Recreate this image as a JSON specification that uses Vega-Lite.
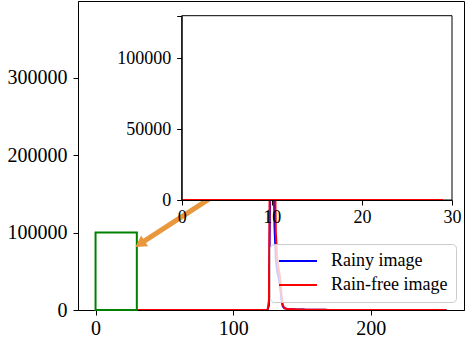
{
"$schema": "https://vega.github.io/schema/vega-lite/v6.json",
"width": 386, "height": 309,
"autosize": "none",
"padding": {"left": 78, "top": 1, "right": 3, "bottom": 31},
"background": "white",
"config": {
  "font": "Liberation Serif",
  "view": {"stroke": "#000000", "strokeWidth": 1},
  "style": {"guide-label": {"font": "Liberation Serif", "fill": "#000000"}},
  "axis": {"domainColor": "#000000", "tickColor": "#000000", "labelColor": "#000000", "grid": false, "title": null, "labelFont": "Liberation Serif", "domainWidth": 1, "tickWidth": 1, "labelFlush": false, "labelOverlap": false},
  "legend": {"labelFont": "Liberation Serif", "labelFontSize": 18, "labelColor": "#000000", "labelLimit": 300}
},
"data": {"values": [
{"x":0,"Rainy image":0,"Rain-free image":0},{"x":1,"Rainy image":0,"Rain-free image":0},{"x":2,"Rainy image":0,"Rain-free image":0},{"x":3,"Rainy image":0,"Rain-free image":0},{"x":4,"Rainy image":0,"Rain-free image":0},{"x":5,"Rainy image":0,"Rain-free image":0},{"x":6,"Rainy image":0,"Rain-free image":0},{"x":7,"Rainy image":0,"Rain-free image":0},{"x":8,"Rainy image":0,"Rain-free image":0},{"x":9,"Rainy image":0,"Rain-free image":0},
{"x":10,"Rainy image":0,"Rain-free image":0},{"x":11,"Rainy image":0,"Rain-free image":0},{"x":12,"Rainy image":0,"Rain-free image":0},{"x":13,"Rainy image":0,"Rain-free image":0},{"x":14,"Rainy image":0,"Rain-free image":0},{"x":15,"Rainy image":0,"Rain-free image":0},{"x":16,"Rainy image":0,"Rain-free image":0},{"x":17,"Rainy image":0,"Rain-free image":0},{"x":18,"Rainy image":0,"Rain-free image":0},{"x":19,"Rainy image":0,"Rain-free image":0},
{"x":20,"Rainy image":0,"Rain-free image":0},{"x":21,"Rainy image":0,"Rain-free image":0},{"x":22,"Rainy image":0,"Rain-free image":0},{"x":23,"Rainy image":0,"Rain-free image":0},{"x":24,"Rainy image":0,"Rain-free image":0},{"x":25,"Rainy image":0,"Rain-free image":0},{"x":26,"Rainy image":0,"Rain-free image":0},{"x":27,"Rainy image":0,"Rain-free image":0},{"x":28,"Rainy image":0,"Rain-free image":0},{"x":29,"Rainy image":0,"Rain-free image":0},
{"x":30,"Rainy image":0,"Rain-free image":0},{"x":31,"Rainy image":0,"Rain-free image":0},{"x":32,"Rainy image":0,"Rain-free image":0},{"x":33,"Rainy image":0,"Rain-free image":0},{"x":34,"Rainy image":0,"Rain-free image":0},{"x":35,"Rainy image":0,"Rain-free image":0},{"x":36,"Rainy image":0,"Rain-free image":0},{"x":37,"Rainy image":0,"Rain-free image":0},{"x":38,"Rainy image":0,"Rain-free image":0},{"x":39,"Rainy image":0,"Rain-free image":0},
{"x":40,"Rainy image":0,"Rain-free image":0},{"x":41,"Rainy image":0,"Rain-free image":0},{"x":42,"Rainy image":0,"Rain-free image":0},{"x":43,"Rainy image":0,"Rain-free image":0},{"x":44,"Rainy image":0,"Rain-free image":0},{"x":45,"Rainy image":0,"Rain-free image":0},{"x":46,"Rainy image":0,"Rain-free image":0},{"x":47,"Rainy image":0,"Rain-free image":0},{"x":48,"Rainy image":0,"Rain-free image":0},{"x":49,"Rainy image":0,"Rain-free image":0},
{"x":50,"Rainy image":0,"Rain-free image":0},{"x":51,"Rainy image":0,"Rain-free image":0},{"x":52,"Rainy image":0,"Rain-free image":0},{"x":53,"Rainy image":0,"Rain-free image":0},{"x":54,"Rainy image":0,"Rain-free image":0},{"x":55,"Rainy image":0,"Rain-free image":0},{"x":56,"Rainy image":0,"Rain-free image":0},{"x":57,"Rainy image":0,"Rain-free image":0},{"x":58,"Rainy image":0,"Rain-free image":0},{"x":59,"Rainy image":0,"Rain-free image":0},
{"x":60,"Rainy image":0,"Rain-free image":0},{"x":61,"Rainy image":0,"Rain-free image":0},{"x":62,"Rainy image":0,"Rain-free image":0},{"x":63,"Rainy image":0,"Rain-free image":0},{"x":64,"Rainy image":0,"Rain-free image":0},{"x":65,"Rainy image":0,"Rain-free image":0},{"x":66,"Rainy image":0,"Rain-free image":0},{"x":67,"Rainy image":0,"Rain-free image":0},{"x":68,"Rainy image":0,"Rain-free image":0},{"x":69,"Rainy image":0,"Rain-free image":0},
{"x":70,"Rainy image":0,"Rain-free image":0},{"x":71,"Rainy image":0,"Rain-free image":0},{"x":72,"Rainy image":0,"Rain-free image":0},{"x":73,"Rainy image":0,"Rain-free image":0},{"x":74,"Rainy image":0,"Rain-free image":0},{"x":75,"Rainy image":0,"Rain-free image":0},{"x":76,"Rainy image":0,"Rain-free image":0},{"x":77,"Rainy image":0,"Rain-free image":0},{"x":78,"Rainy image":0,"Rain-free image":0},{"x":79,"Rainy image":0,"Rain-free image":0},
{"x":80,"Rainy image":0,"Rain-free image":0},{"x":81,"Rainy image":0,"Rain-free image":0},{"x":82,"Rainy image":0,"Rain-free image":0},{"x":83,"Rainy image":0,"Rain-free image":0},{"x":84,"Rainy image":0,"Rain-free image":0},{"x":85,"Rainy image":0,"Rain-free image":0},{"x":86,"Rainy image":0,"Rain-free image":0},{"x":87,"Rainy image":0,"Rain-free image":0},{"x":88,"Rainy image":0,"Rain-free image":0},{"x":89,"Rainy image":0,"Rain-free image":0},
{"x":90,"Rainy image":0,"Rain-free image":0},{"x":91,"Rainy image":0,"Rain-free image":0},{"x":92,"Rainy image":0,"Rain-free image":0},{"x":93,"Rainy image":0,"Rain-free image":0},{"x":94,"Rainy image":0,"Rain-free image":0},{"x":95,"Rainy image":0,"Rain-free image":0},{"x":96,"Rainy image":0,"Rain-free image":0},{"x":97,"Rainy image":0,"Rain-free image":0},{"x":98,"Rainy image":0,"Rain-free image":0},{"x":99,"Rainy image":0,"Rain-free image":0},
{"x":100,"Rainy image":0,"Rain-free image":0},{"x":101,"Rainy image":0,"Rain-free image":0},{"x":102,"Rainy image":0,"Rain-free image":0},{"x":103,"Rainy image":0,"Rain-free image":0},{"x":104,"Rainy image":0,"Rain-free image":0},{"x":105,"Rainy image":0,"Rain-free image":0},{"x":106,"Rainy image":0,"Rain-free image":0},{"x":107,"Rainy image":0,"Rain-free image":0},{"x":108,"Rainy image":0,"Rain-free image":0},{"x":109,"Rainy image":0,"Rain-free image":0},
{"x":110,"Rainy image":0,"Rain-free image":0},{"x":111,"Rainy image":0,"Rain-free image":0},{"x":112,"Rainy image":0,"Rain-free image":0},{"x":113,"Rainy image":0,"Rain-free image":0},{"x":114,"Rainy image":0,"Rain-free image":0},{"x":115,"Rainy image":0,"Rain-free image":0},{"x":116,"Rainy image":0,"Rain-free image":0},{"x":117,"Rainy image":0,"Rain-free image":0},{"x":118,"Rainy image":0,"Rain-free image":0},{"x":119,"Rainy image":0,"Rain-free image":0},
{"x":120,"Rainy image":0,"Rain-free image":0},{"x":121,"Rainy image":0,"Rain-free image":0},{"x":122,"Rainy image":0,"Rain-free image":0},{"x":123,"Rainy image":0,"Rain-free image":0},{"x":124,"Rainy image":0,"Rain-free image":0},{"x":125,"Rainy image":0,"Rain-free image":0},{"x":126,"Rainy image":6000,"Rain-free image":12000},{"x":127,"Rainy image":180000,"Rain-free image":290000},{"x":128,"Rainy image":365000,"Rain-free image":380000},{"x":129,"Rainy image":240000,"Rain-free image":330000},
{"x":130,"Rainy image":110000,"Rain-free image":240000},{"x":131,"Rainy image":65000,"Rain-free image":100000},{"x":132,"Rainy image":50000,"Rain-free image":68000},{"x":133,"Rainy image":42000,"Rain-free image":54000},{"x":134,"Rainy image":32000,"Rain-free image":43000},{"x":135,"Rainy image":14000,"Rain-free image":22000},{"x":136,"Rainy image":5000,"Rain-free image":7000},{"x":137,"Rainy image":2500,"Rain-free image":3000},{"x":138,"Rainy image":1800,"Rain-free image":2000},{"x":139,"Rainy image":1500,"Rain-free image":1600},
{"x":140,"Rainy image":1300,"Rain-free image":1400},{"x":141,"Rainy image":1100,"Rain-free image":1200},{"x":142,"Rainy image":1000,"Rain-free image":1100},{"x":143,"Rainy image":900,"Rain-free image":1000},{"x":144,"Rainy image":850,"Rain-free image":900},{"x":145,"Rainy image":800,"Rain-free image":850},{"x":146,"Rainy image":750,"Rain-free image":800},{"x":147,"Rainy image":700,"Rain-free image":750},{"x":148,"Rainy image":650,"Rain-free image":700},{"x":149,"Rainy image":600,"Rain-free image":650},
{"x":150,"Rainy image":560,"Rain-free image":600},{"x":151,"Rainy image":520,"Rain-free image":560},{"x":152,"Rainy image":480,"Rain-free image":520},{"x":153,"Rainy image":450,"Rain-free image":480},{"x":154,"Rainy image":420,"Rain-free image":450},{"x":155,"Rainy image":390,"Rain-free image":420},{"x":156,"Rainy image":360,"Rain-free image":390},{"x":157,"Rainy image":340,"Rain-free image":360},{"x":158,"Rainy image":320,"Rain-free image":340},{"x":159,"Rainy image":300,"Rain-free image":320},
{"x":160,"Rainy image":280,"Rain-free image":300},{"x":161,"Rainy image":260,"Rain-free image":270},{"x":162,"Rainy image":240,"Rain-free image":250},{"x":163,"Rainy image":220,"Rain-free image":230},{"x":164,"Rainy image":200,"Rain-free image":210},{"x":165,"Rainy image":190,"Rain-free image":200},{"x":166,"Rainy image":180,"Rain-free image":190},{"x":167,"Rainy image":170,"Rain-free image":180},{"x":168,"Rainy image":160,"Rain-free image":170},{"x":169,"Rainy image":150,"Rain-free image":160},
{"x":170,"Rainy image":140,"Rain-free image":150},{"x":171,"Rainy image":130,"Rain-free image":140},{"x":172,"Rainy image":120,"Rain-free image":130},{"x":173,"Rainy image":110,"Rain-free image":120},{"x":174,"Rainy image":100,"Rain-free image":110},{"x":175,"Rainy image":95,"Rain-free image":105},{"x":176,"Rainy image":90,"Rain-free image":100},{"x":177,"Rainy image":85,"Rain-free image":95},{"x":178,"Rainy image":80,"Rain-free image":90},{"x":179,"Rainy image":75,"Rain-free image":85},
{"x":180,"Rainy image":70,"Rain-free image":80},{"x":181,"Rainy image":65,"Rain-free image":65},{"x":182,"Rainy image":60,"Rain-free image":60},{"x":183,"Rainy image":55,"Rain-free image":55},{"x":184,"Rainy image":50,"Rain-free image":50},{"x":185,"Rainy image":45,"Rain-free image":45},{"x":186,"Rainy image":40,"Rain-free image":40},{"x":187,"Rainy image":38,"Rain-free image":38},{"x":188,"Rainy image":36,"Rain-free image":36},{"x":189,"Rainy image":34,"Rain-free image":34},
{"x":190,"Rainy image":32,"Rain-free image":32},{"x":191,"Rainy image":30,"Rain-free image":30},{"x":192,"Rainy image":28,"Rain-free image":28},{"x":193,"Rainy image":26,"Rain-free image":26},{"x":194,"Rainy image":24,"Rain-free image":24},{"x":195,"Rainy image":22,"Rain-free image":22},{"x":196,"Rainy image":20,"Rain-free image":20},{"x":197,"Rainy image":18,"Rain-free image":18},{"x":198,"Rainy image":16,"Rain-free image":16},{"x":199,"Rainy image":14,"Rain-free image":14},
{"x":200,"Rainy image":12,"Rain-free image":12},{"x":201,"Rainy image":8,"Rain-free image":8},{"x":202,"Rainy image":8,"Rain-free image":8},{"x":203,"Rainy image":8,"Rain-free image":8},{"x":204,"Rainy image":8,"Rain-free image":8},{"x":205,"Rainy image":8,"Rain-free image":8},{"x":206,"Rainy image":8,"Rain-free image":8},{"x":207,"Rainy image":8,"Rain-free image":8},{"x":208,"Rainy image":8,"Rain-free image":8},{"x":209,"Rainy image":8,"Rain-free image":8},
{"x":210,"Rainy image":8,"Rain-free image":8},{"x":211,"Rainy image":8,"Rain-free image":8},{"x":212,"Rainy image":8,"Rain-free image":8},{"x":213,"Rainy image":8,"Rain-free image":8},{"x":214,"Rainy image":8,"Rain-free image":8},{"x":215,"Rainy image":8,"Rain-free image":8},{"x":216,"Rainy image":8,"Rain-free image":8},{"x":217,"Rainy image":8,"Rain-free image":8},{"x":218,"Rainy image":8,"Rain-free image":8},{"x":219,"Rainy image":8,"Rain-free image":8},
{"x":220,"Rainy image":8,"Rain-free image":8},{"x":221,"Rainy image":8,"Rain-free image":8},{"x":222,"Rainy image":8,"Rain-free image":8},{"x":223,"Rainy image":8,"Rain-free image":8},{"x":224,"Rainy image":8,"Rain-free image":8},{"x":225,"Rainy image":8,"Rain-free image":8},{"x":226,"Rainy image":8,"Rain-free image":8},{"x":227,"Rainy image":8,"Rain-free image":8},{"x":228,"Rainy image":8,"Rain-free image":8},{"x":229,"Rainy image":8,"Rain-free image":8},
{"x":230,"Rainy image":8,"Rain-free image":8},{"x":231,"Rainy image":4,"Rain-free image":4},{"x":232,"Rainy image":4,"Rain-free image":4},{"x":233,"Rainy image":4,"Rain-free image":4},{"x":234,"Rainy image":4,"Rain-free image":4},{"x":235,"Rainy image":4,"Rain-free image":4},{"x":236,"Rainy image":4,"Rain-free image":4},{"x":237,"Rainy image":4,"Rain-free image":4},{"x":238,"Rainy image":4,"Rain-free image":4},{"x":239,"Rainy image":4,"Rain-free image":4},
{"x":240,"Rainy image":4,"Rain-free image":4},{"x":241,"Rainy image":4,"Rain-free image":4},{"x":242,"Rainy image":4,"Rain-free image":4},{"x":243,"Rainy image":4,"Rain-free image":4},{"x":244,"Rainy image":4,"Rain-free image":4},{"x":245,"Rainy image":4,"Rain-free image":4},{"x":246,"Rainy image":4,"Rain-free image":4},{"x":247,"Rainy image":4,"Rain-free image":4},{"x":248,"Rainy image":4,"Rain-free image":4},{"x":249,"Rainy image":4,"Rain-free image":4},
{"x":250,"Rainy image":4,"Rain-free image":4},{"x":251,"Rainy image":4,"Rain-free image":4},{"x":252,"Rainy image":4,"Rain-free image":4},{"x":253,"Rainy image":4,"Rain-free image":4},{"x":254,"Rainy image":4,"Rain-free image":4},{"x":255,"Rainy image":4,"Rain-free image":4}
]},
"transform": [{"fold": ["Rainy image", "Rain-free image"], "as": ["series", "value"]}],
"layer": [
  {
    "layer": [
      {
        "mark": {"type": "line", "strokeWidth": 2, "clip": true},
        "encoding": {
          "x": {"field": "x", "type": "quantitative", "scale": {"domain": [-12.75, 267.75], "nice": false, "zero": false},
                "axis": {"orient": "bottom", "values": [0, 100, 200], "labelFontSize": 20, "tickSize": 5, "labelPadding": 3}},
          "y": {"field": "value", "type": "quantitative", "scale": {"domain": [0, 399000], "nice": false, "zero": false},
                "axis": {"orient": "left", "values": [0, 100000, 200000, 300000], "format": "d", "labelFontSize": 20, "tickSize": 5, "labelPadding": 6}},
          "color": {"field": "series", "type": "nominal", "sort": ["Rainy image", "Rain-free image"],
                    "scale": {"domain": ["Rainy image", "Rain-free image"], "range": ["#0000ff", "#ff0000"]},
                    "legend": {"title": null, "orient": "bottom-right", "offset": 8, "symbolType": "stroke", "symbolSize": 1444, "symbolStrokeWidth": 2, "clipHeight": 18, "labelFont": "Liberation Serif", "labelFontSize": 18, "labelColor": "#000000", "labelOffset": 13, "padding": 8, "rowPadding": 6, "strokeColor": "#cccccc", "fillColor": "rgba(255,255,255,0.8)", "cornerRadius": 4}}
        }
      },
      {
        "data": {"values": [{}]},
        "mark": {"type": "rect", "fill": null, "stroke": "#008000", "strokeWidth": 2},
        "encoding": {"x": {"datum": 0, "type": "quantitative"}, "x2": {"datum": 30}, "y": {"datum": 0, "type": "quantitative"}, "y2": {"datum": 100000}}
      },
      {
        "data": {"values": [{}]},
        "mark": {"type": "rule", "color": "#e8973c", "strokeWidth": 5},
        "encoding": {"x": {"datum": 32.3, "type": "quantitative"}, "x2": {"datum": 86}, "y": {"datum": 85350, "type": "quantitative"}, "y2": {"datum": 147400}}
      },
      {
        "data": {"values": [{}]},
        "mark": {"type": "point", "shape": "triangle-right", "filled": true, "color": "#e8973c", "opacity": 1, "size": 160, "angle": 147},
        "encoding": {"x": {"datum": 32.3, "type": "quantitative"}, "y": {"datum": 85350, "type": "quantitative"}}
      }
    ]
  },
  {
    "layer": [
      {
        "data": {"values": [{}]},
        "mark": {"type": "rect", "fill": "#ffffff", "stroke": "#000000", "strokeWidth": 1},
        "encoding": {
          "x": {"datum": 0, "type": "quantitative", "scale": {"domain": [0, 30], "range": [103.7, 374], "nice": false, "zero": false},
                "axis": {"orient": "bottom", "offset": -110, "values": [0, 10, 20, 30], "labelFontSize": 18, "tickSize": 5, "labelPadding": 3, "zindex": 1}},
          "x2": {"datum": 30},
          "y": {"datum": 0, "type": "quantitative", "scale": {"domain": [0, 130000], "range": [199, 14.7], "nice": false, "zero": false},
                "axis": {"orient": "left", "offset": -103.7, "values": [0, 50000, 100000, 130000], "format": "d", "labelExpr": "datum.value == 130000 ? '' : datum.label", "labelFontSize": 18, "tickSize": 5, "labelPadding": 6, "zindex": 1}},
          "y2": {"datum": 130000}
        }
      },
      {
        "transform": [{"filter": "datum.x <= 29"}],
        "mark": {"type": "line", "strokeWidth": 2},
        "encoding": {
          "x": {"field": "x", "type": "quantitative"},
          "y": {"field": "value", "type": "quantitative"},
          "color": {"field": "series", "type": "nominal", "sort": ["Rainy image", "Rain-free image"],
                    "scale": {"domain": ["Rainy image", "Rain-free image"], "range": ["#0000ff", "#ff0000"]},
                    "legend": {"title": null, "orient": "bottom-right", "offset": 8, "symbolType": "stroke", "symbolSize": 1444, "symbolStrokeWidth": 2, "clipHeight": 18, "labelFont": "Liberation Serif", "labelFontSize": 18, "labelColor": "#000000", "labelOffset": 13, "padding": 8, "rowPadding": 6, "strokeColor": "#cccccc", "fillColor": "rgba(255,255,255,0.8)", "cornerRadius": 4}}
        }
      }
    ]
  }
],
"resolve": {"scale": {"x": "independent", "y": "independent", "color": "shared"}, "axis": {"x": "independent", "y": "independent"}}
}
